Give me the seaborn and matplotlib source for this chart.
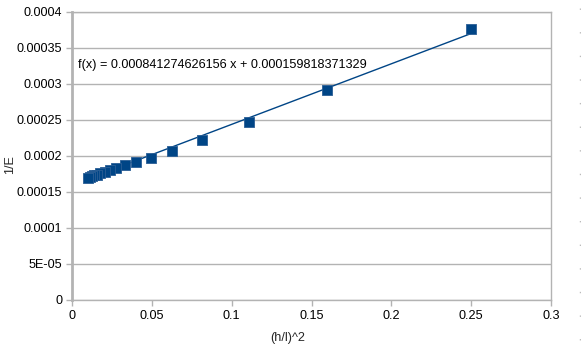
import numpy as np
import pandas as pd
import matplotlib
matplotlib.use("Agg")
import matplotlib.pyplot as plt
import seaborn as sns
from matplotlib.lines import Line2D

# data
x_vals = [0.25, 0.16, 0.1111, 0.0816, 0.0625, 0.0494, 0.04, 0.0331, 0.0278,
          0.0237, 0.0204, 0.0178, 0.0156, 0.0138, 0.0123, 0.0111, 0.01]
y_vals = [0.000377, 0.000291, 0.000247, 0.000222, 0.000207, 0.000197, 0.000192,
          0.0001875, 0.0001833, 0.00018, 0.000178, 0.000176, 0.000174, 0.000173,
          0.000172, 0.000171, 0.00017]
slope = 0.000841274626156
intercept = 0.000159818371329
eq_text = "f(x) = 0.000841274626156 x + 0.000159818371329"
x_ticks = [0, 0.05, 0.1, 0.15, 0.2, 0.25, 0.3]
x_tick_labels = ["0", "0.05", "0.1", "0.15", "0.2", "0.25", "0.3"]
y_ticks = [0, 0.00005, 0.0001, 0.00015, 0.0002, 0.00025, 0.0003, 0.00035, 0.0004]
y_tick_labels = ["0", "5E-05", "0.0001", "0.00015", "0.0002", "0.00025", "0.0003", "0.00035", "0.0004"]

sns.set_theme(style="white")
plt.rcParams['font.family'] = ['Liberation Sans', 'DejaVu Sans']

df = pd.DataFrame({"x": x_vals, "y": y_vals})
xs = np.array([min(x_vals), max(x_vals)])
trend = pd.DataFrame({"x": xs, "y": slope * xs + intercept})

fig = plt.figure(figsize=(5.81, 3.47), dpi=100)
ax = fig.add_axes([72/581, 1-300/347, (551-72)/581, (300-12)/347])

grid_c = "#b3b3b3"
blue = "#004586"
fs = 9.1

ax.set_xlim(0, 0.3)
ax.set_ylim(0, 0.0004)
ax.set_yticks(y_ticks)
ax.set_yticklabels(y_tick_labels)
ax.set_xticks(x_ticks)
ax.set_xticklabels(x_tick_labels)
ax.yaxis.grid(True, color=grid_c, linewidth=1.0)
ax.xaxis.grid(False)
ax.set_axisbelow(True)

sns.lineplot(data=trend, x="x", y="y", ax=ax, color=blue, linewidth=1.0, zorder=3)
sns.scatterplot(data=df, x="x", y="y", ax=ax, marker="s", s=58, color=blue,
                edgecolor="#2a5e95", linewidth=0.6, zorder=4)

for side in ["left", "right", "top", "bottom"]:
    ax.spines[side].set_color(grid_c)
    ax.spines[side].set_linewidth(1.0)
ax.spines["left"].set_linewidth(2.0)

ax.tick_params(axis="both", which="both", direction="out", length=4, width=1,
               color=grid_c, labelsize=fs, labelcolor="#000000", pad=3,
               left=True, bottom=True)

ax.set_xlabel("")
ax.set_ylabel("")
fig.text(288/581, 1-338/347, "(h/l)^2", fontsize=fs, ha="center", va="center")
fig.text(10/581, 1-165/347, "1/E", fontsize=fs, ha="center", va="center",
         rotation=90)

ax.text(78/581, 1-65/347, eq_text, transform=fig.transFigure, fontsize=fs,
        ha="left", va="center", color="#000000")

# dashed page edge at right
fig.add_artist(Line2D([579.5/581, 579.5/581], [1-8/347, 1-340/347],
                      transform=fig.transFigure, color="#bbbbbb",
                      linewidth=1.0, linestyle=(0, (1, 16))))

fig.savefig("out.png", dpi=100)
